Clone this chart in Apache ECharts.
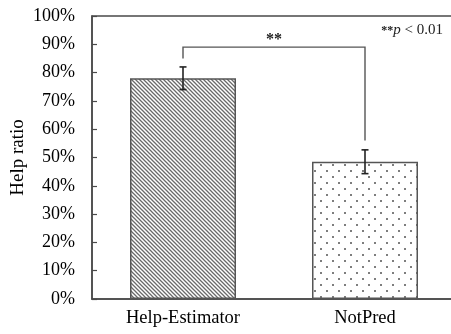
<!DOCTYPE html>
<html>
<head>
<meta charset="utf-8">
<script src="https://cdn.jsdelivr.net/npm/echarts@6/dist/echarts.min.js"></script>
<style>
  html, body { margin: 0; padding: 0; background: #fff; }
  #chart { width: 451px; height: 334px; }
</style>
</head>
<body>
<div id="chart"></div>
<script>
// Help ratio per condition, with error half-widths (percent)
const categories = ['Help-Estimator', 'NotPred'];
const helpRatio = [78, 48.5];
const errorHalf = [4, 4.2];

// Significance bracket: top level and the heights where each leg ends (percent)
const bracketTop = 89;
const bracketLegEnds = [85, 56];
const bracketLabel = '**';

const FONT = '"Liberation Serif", "Times New Roman", serif';
const LINE = '#4a4a4a';

// Diagonal hatch tile
function hatchPattern() {
  const s = 4;
  const c = document.createElement('canvas');
  c.width = s; c.height = s;
  const g = c.getContext('2d');
  g.fillStyle = '#ffffff';
  g.fillRect(0, 0, s, s);
  g.strokeStyle = '#6a6a6a';
  g.lineWidth = 1.3;
  g.beginPath();
  g.moveTo(-1, -1); g.lineTo(s + 1, s + 1);
  g.moveTo(-1, s - 1); g.lineTo(1, s + 1);
  g.moveTo(s - 1, -1); g.lineTo(s + 1, 1);
  g.stroke();
  return c;
}

// Staggered dot tile
function dotPattern() {
  const s = 12;
  const c = document.createElement('canvas');
  c.width = s; c.height = s;
  const g = c.getContext('2d');
  g.fillStyle = '#ffffff';
  g.fillRect(0, 0, s, s);
  g.fillStyle = '#7e7e7e';
  g.fillRect(2, 2, 2, 2);
  g.fillRect(8, 8, 2, 2);
  return c;
}

const barFills = [
  { image: hatchPattern(), repeat: 'repeat' },
  { image: dotPattern(), repeat: 'repeat' }
];

const chart = echarts.init(document.getElementById('chart'), null, { renderer: 'canvas' });

chart.setOption({
  animation: false,
  backgroundColor: '#ffffff',
  grid: {
    left: 92, top: 16, height: 283, width: 364,
    outerBoundsMode: 'none',
    containLabel: false,
    show: true, borderColor: LINE, borderWidth: 1.5, backgroundColor: 'transparent'
  },
  xAxis: {
    type: 'category',
    data: categories,
    axisLine: { lineStyle: { color: LINE, width: 1.5 } },
    axisTick: { show: false },
    axisLabel: { color: '#000', fontFamily: FONT, fontSize: 18.5, margin: 10 }
  },
  yAxis: {
    type: 'value',
    min: 0, max: 100, interval: 10,
    name: 'Help ratio',
    nameLocation: 'middle',
    nameGap: 64,
    nameMoveOverlap: false,
    nameTextStyle: { color: '#000', fontFamily: FONT, fontSize: 19 },
    axisLine: { show: true, lineStyle: { color: LINE, width: 1.5 } },
    axisTick: { show: true, inside: true, length: 5, lineStyle: { color: LINE, width: 1.2 } },
    axisLabel: { color: '#000', fontFamily: FONT, fontSize: 18, margin: 17, formatter: '{value}%' },
    splitLine: { show: false }
  },
  series: [
    {
      type: 'bar',
      barWidth: 106,
      data: helpRatio.map((v, i) => ({
        value: v,
        itemStyle: { color: barFills[i], borderColor: '#555', borderWidth: 1.5 }
      }))
    },
    {
      // error bars
      type: 'custom',
      data: helpRatio.map((v, i) => [i, v - errorHalf[i], v + errorHalf[i]]),
      renderItem: function (params, api) {
        const lo = api.coord([api.value(0), api.value(1)]);
        const hi = api.coord([api.value(0), api.value(2)]);
        const w = 3.5;
        const style = { stroke: '#222', lineWidth: 1.6, fill: null };
        return {
          type: 'group',
          children: [
            { type: 'line', shape: { x1: lo[0], y1: lo[1], x2: hi[0], y2: hi[1] }, style },
            { type: 'line', shape: { x1: hi[0] - w, y1: hi[1], x2: hi[0] + w, y2: hi[1] }, style },
            { type: 'line', shape: { x1: lo[0] - w, y1: lo[1], x2: lo[0] + w, y2: lo[1] }, style }
          ]
        };
      },
      z: 5
    },
    {
      // significance bracket
      type: 'custom',
      data: [[0, 1, bracketTop, bracketLegEnds[0], bracketLegEnds[1]]],
      renderItem: function (params, api) {
        const a0 = api.coord([api.value(0), api.value(3)]);
        const a1 = api.coord([api.value(0), api.value(2)]);
        const b1 = api.coord([api.value(1), api.value(2)]);
        const b0 = api.coord([api.value(1), api.value(4)]);
        return {
          type: 'group',
          children: [
            {
              type: 'polyline',
              shape: { points: [a0, a1, b1, b0] },
              style: { stroke: '#555', lineWidth: 1.4, fill: null }
            },
            {
              type: 'text',
              style: {
                text: bracketLabel,
                x: (a1[0] + b1[0]) / 2, y: a1[1] + 1,
                align: 'center', verticalAlign: 'bottom',
                font: 'bold 16px ' + FONT, fill: '#222'
              }
            }
          ]
        };
      },
      z: 4
    }
  ],
  graphic: [
    {
      type: 'text',
      right: 8, top: 23,
      style: {
        text: '{s|**}{p|p}{t| < 0.01}',
        rich: {
          s: { font: 'bold 12px ' + FONT, fill: '#222' },
          p: { font: 'italic 15px ' + FONT, fill: '#222' },
          t: { font: '15px ' + FONT, fill: '#222' }
        }
      }
    }
  ]
});
</script>
</body>
</html>
